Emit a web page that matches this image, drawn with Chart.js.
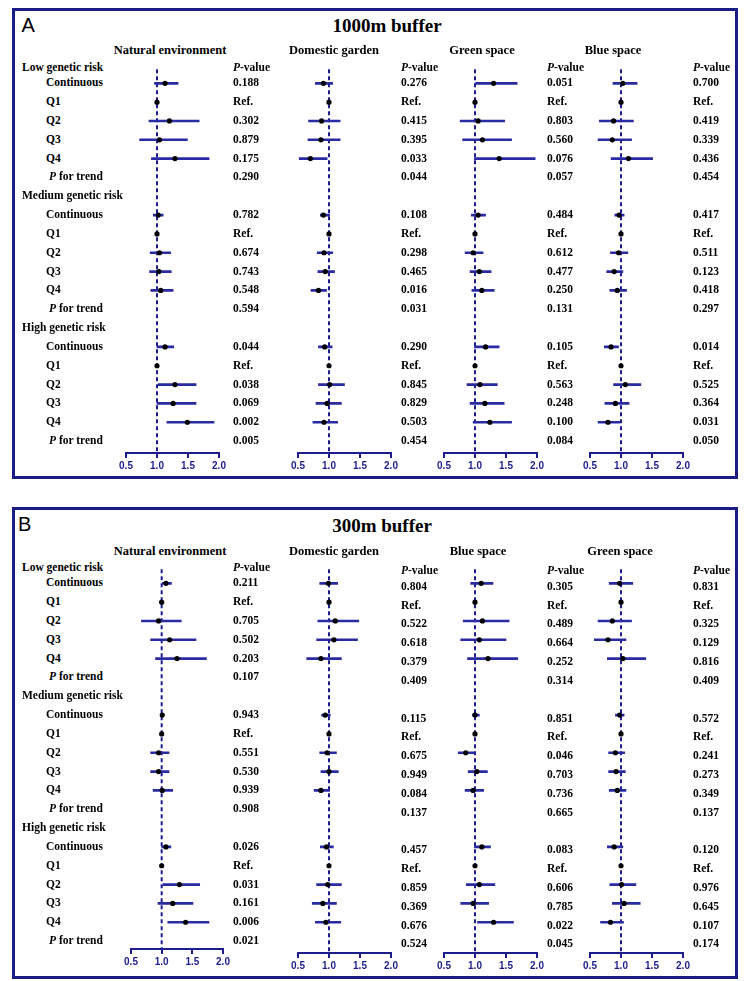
<!DOCTYPE html>
<html>
<head>
<meta charset="utf-8">
<title>Forest plots – 1000m and 300m buffer</title>
<script src="https://cdn.jsdelivr.net/npm/chart.js@4.4.1/dist/chart.umd.min.js"></script>
<style>
  html, body { margin: 0; padding: 0; background: #fff; }
  #page { position: relative; width: 750px; height: 981px; overflow: hidden;
          font-family: 'Liberation Serif', 'Times New Roman', serif; color: #000; }
  .panel { position: absolute; left: 12px; width: 726px; border: 3px solid #1b1b86; box-sizing: border-box; }
  .txt { position: absolute; white-space: nowrap; line-height: 1; transform: translateY(-50%);
         font-weight: bold; font-size: 11.5px; }
  .mid { transform: translate(-50%, -50%); }
  .letter { font-family: 'Liberation Sans', Arial, sans-serif; font-weight: normal; font-size: 20px; }
  .title { font-size: 19px; }
  .head { font-size: 12.5px; }
  canvas { position: absolute; }
</style>
</head>
<body>
<div id="page"></div>
<script>
/* ---------- rows and ticks ---------- */
const rowLabels = ['Low genetic risk', 'Continuous', 'Q1', 'Q2', 'Q3', 'Q4', 'P for trend',
  'Medium genetic risk', 'Continuous', 'Q1', 'Q2', 'Q3', 'Q4', 'P for trend',
  'High genetic risk', 'Continuous', 'Q1', 'Q2', 'Q3', 'Q4', 'P for trend'];
const orRows = [1, 2, 3, 4, 5, 8, 9, 10, 11, 12, 15, 16, 17, 18, 19];
const pRows = [1, 2, 3, 4, 5, 6, 8, 9, 10, 11, 12, 13, 15, 16, 17, 18, 19, 20];
const xTicks = [0.5, 1.0, 1.5, 2.0];
const refLine = 1.0;

const headsA = ['Natural environment', 'Domestic garden', 'Green space', 'Blue space'];
const headsB = ['Natural environment', 'Domestic garden', 'Blue space', 'Green space'];

/* ---------- A: 1000m buffer ---------- */
const natA_or = [1.13, 1, 1.20, 1.04, 1.29, 1.02, 1, 1.04, 1.03, 1.06, 1.13, 1, 1.29, 1.26, 1.49];
const natA_lo = [0.96, null, 0.87, 0.72, 0.91, 0.94, null, 0.89, 0.88, 0.90, 1.00, null, 1.02, 1.00, 1.16];
const natA_hi = [1.34, null, 1.68, 1.49, 1.84, 1.10, null, 1.22, 1.23, 1.26, 1.27, null, 1.63, 1.63, 1.92];
const natA_p = ['0.188', 'Ref.', '0.302', '0.879', '0.175', '0.290', '0.782', 'Ref.', '0.674', '0.743', '0.548', '0.594',
  '0.044', 'Ref.', '0.038', '0.069', '0.002', '0.005'];

const domA_or = [0.91, 1, 0.88, 0.87, 0.70, 0.91, 1, 0.92, 0.94, 0.83, 0.93, 1, 1.01, 0.97, 0.92];
const domA_lo = [0.78, null, 0.67, 0.66, 0.52, 0.86, null, 0.81, 0.82, 0.71, 0.83, null, 0.83, 0.79, 0.74];
const domA_hi = [1.06, null, 1.18, 1.18, 0.97, 1.01, null, 1.06, 1.09, 0.96, 1.05, null, 1.25, 1.20, 1.14];
const domA_p = ['0.276', 'Ref.', '0.415', '0.395', '0.033', '0.044', '0.108', 'Ref.', '0.298', '0.465', '0.016', '0.031',
  '0.290', 'Ref.', '0.845', '0.829', '0.503', '0.454'];

const greA_or = [1.30, 1, 1.05, 1.12, 1.39, 1.05, 1, 0.97, 1.07, 1.11, 1.17, 1, 1.08, 1.16, 1.24];
const greA_lo = [1.01, null, 0.76, 0.80, 0.99, 0.94, null, 0.84, 0.92, 0.95, 0.99, null, 0.87, 0.92, 0.97];
const greA_hi = [1.68, null, 1.48, 1.59, 1.97, 1.17, null, 1.13, 1.26, 1.31, 1.39, null, 1.36, 1.47, 1.59];
const greA_p = ['0.051', 'Ref.', '0.803', '0.560', '0.076', '0.057', '0.484', 'Ref.', '0.612', '0.477', '0.250', '0.131',
  '0.105', 'Ref.', '0.563', '0.248', '0.100', '0.084'];

const bluA_or = [1.03, 1, 0.88, 0.86, 1.12, 0.97, 1, 0.96, 0.89, 0.94, 0.84, 1, 1.07, 0.91, 0.79];
const bluA_lo = [0.87, null, 0.65, 0.63, 0.84, 0.90, null, 0.83, 0.77, 0.82, 0.73, null, 0.88, 0.74, 0.63];
const bluA_hi = [1.26, null, 1.20, 1.17, 1.51, 1.05, null, 1.11, 1.03, 1.09, 0.96, null, 1.32, 1.13, 0.98];
const bluA_p = ['0.700', 'Ref.', '0.419', '0.339', '0.436', '0.454', '0.417', 'Ref.', '0.511', '0.123', '0.418', '0.297',
  '0.014', 'Ref.', '0.525', '0.364', '0.031', '0.050'];

/* ---------- B: 300m buffer ---------- */
const natB_or = [1.07, 1, 0.95, 1.13, 1.25, 1.01, 1, 0.95, 0.95, 1.01, 1.07, 1, 1.29, 1.18, 1.39];
const natB_lo = [1.01, null, 0.67, 0.82, 0.90, 0.98, null, 0.82, 0.82, 0.86, 1.00, null, 1.02, 0.94, 1.10];
const natB_hi = [1.16, null, 1.32, 1.56, 1.73, 1.03, null, 1.12, 1.12, 1.18, 1.15, null, 1.62, 1.51, 1.77];
const natB_p = ['0.211', 'Ref.', '0.705', '0.502', '0.203', '0.107', '0.943', 'Ref.', '0.551', '0.530', '0.939', '0.908',
  '0.026', 'Ref.', '0.031', '0.161', '0.006', '0.021'];

const domB_or = [0.99, 1, 1.10, 1.08, 0.87, 0.94, 1, 0.97, 1.00, 0.87, 0.96, 1, 0.98, 0.90, 0.95];
const domB_lo = [0.85, null, 0.82, 0.80, 0.64, 0.88, null, 0.85, 0.87, 0.76, 0.86, null, 0.80, 0.73, 0.78];
const domB_hi = [1.14, null, 1.48, 1.46, 1.20, 1.02, null, 1.12, 1.15, 1.01, 1.07, null, 1.20, 1.12, 1.19];
const domB_p = ['0.804', 'Ref.', '0.522', '0.618', '0.379', '0.409', '0.115', 'Ref.', '0.675', '0.949', '0.084', '0.137',
  '0.457', 'Ref.', '0.859', '0.369', '0.676', '0.524'];

const bluB_or = [1.10, 1, 1.12, 1.07, 1.21, 1.00, 1, 0.85, 1.03, 0.97, 1.11, 1, 1.07, 0.97, 1.30];
const bluB_lo = [0.93, null, 0.81, 0.77, 0.88, 0.96, null, 0.73, 0.89, 0.84, 0.99, null, 0.86, 0.77, 1.04];
const bluB_hi = [1.29, null, 1.55, 1.50, 1.69, 1.07, null, 0.99, 1.20, 1.14, 1.25, null, 1.32, 1.22, 1.62];
const bluB_p = ['0.305', 'Ref.', '0.489', '0.664', '0.252', '0.314', '0.851', 'Ref.', '0.046', '0.703', '0.736', '0.665',
  '0.083', 'Ref.', '0.606', '0.785', '0.022', '0.045'];

const greB_or = [0.98, 1, 0.86, 0.79, 1.03, 0.98, 1, 0.91, 0.92, 0.94, 0.89, 1, 1.01, 1.05, 0.83];
const greB_lo = [0.81, null, 0.63, 0.57, 0.78, 0.91, null, 0.80, 0.80, 0.81, 0.78, null, 0.82, 0.86, 0.67];
const greB_hi = [1.19, null, 1.17, 1.08, 1.40, 1.05, null, 1.06, 1.07, 1.08, 1.03, null, 1.24, 1.31, 1.04];
const greB_p = ['0.831', 'Ref.', '0.325', '0.129', '0.816', '0.409', '0.572', 'Ref.', '0.241', '0.273', '0.349', '0.137',
  '0.120', 'Ref.', '0.976', '0.645', '0.107', '0.174'];

/* ---------- layout (pixels only) ---------- */
const NAVY = '#1c1c8e';
const BAR = '#2a2aa2';
const ROW_STEP = 18.83;

const panels = [
  { letter: 'A', letterX: 21.5, letterY: 25, title: '1000m buffer', titleX: 387, titleY: 25,
    top: 8, height: 471, headY: 50, row1: 83.3, heads: headsA,
    axis: [453, 453, 453, 453], pShift: [0, 0, 0, 0],
    plots: [
      { x0: 126, x1: 219, hx: 170, px: 233, or: natA_or, lo: natA_lo, hi: natA_hi, p: natA_p },
      { x0: 298, x1: 391, hx: 334, px: 401, or: domA_or, lo: domA_lo, hi: domA_hi, p: domA_p },
      { x0: 444, x1: 537, hx: 482, px: 547, or: greA_or, lo: greA_lo, hi: greA_hi, p: greA_p },
      { x0: 590, x1: 683, hx: 613, px: 693, or: bluA_or, lo: bluA_lo, hi: bluA_hi, p: bluA_p }
    ] },
  { letter: 'B', letterX: 18, letterY: 524, title: '300m buffer', titleX: 382, titleY: 525,
    top: 507, height: 472, headY: 551, row1: 583.3, heads: headsB,
    axis: [949, 953, 953, 953], pShift: [0, 3.4, 3.4, 3.4],
    plots: [
      { x0: 131, x1: 223, hx: 170, px: 233, or: natB_or, lo: natB_lo, hi: natB_hi, p: natB_p },
      { x0: 298, x1: 391, hx: 334, px: 401, or: domB_or, lo: domB_lo, hi: domB_hi, p: domB_p },
      { x0: 444, x1: 537, hx: 478, px: 547, or: bluB_or, lo: bluB_lo, hi: bluB_hi, p: bluB_p },
      { x0: 590, x1: 683, hx: 620, px: 693, or: greB_or, lo: greB_lo, hi: greB_hi, p: greB_p }
    ] }
];

const page = document.getElementById('page');

function addText(html, x, y, cls) {
  const d = document.createElement('div');
  d.className = 'txt' + (cls ? ' ' + cls : '');
  d.innerHTML = html;
  d.style.left = x + 'px';
  d.style.top = y + 'px';
  page.appendChild(d);
  return d;
}

// one forest plot = one Chart.js chart; returns a function row -> page y
function drawPlot(panel, k) {
  const plot = panel.plots[k];
  const padL = 22, padR = 22, axisH = 26;
  const axisY = panel.axis[k];
  const row0 = panel.row1 - ROW_STEP;
  const top = Math.floor(row0) - 6;
  const padT = row0 - top;
  const w = (plot.x1 - plot.x0) + padL + padR;
  const h = axisY - top + axisH;
  const yMax = (axisY - row0) / ROW_STEP;

  const canvas = document.createElement('canvas');
  canvas.width = w;
  canvas.height = h;
  canvas.style.left = (plot.x0 - padL) + 'px';
  canvas.style.top = top + 'px';
  canvas.style.width = w + 'px';
  canvas.style.height = h + 'px';
  page.appendChild(canvas);

  const points = [];
  const bars = [];
  plot.or.forEach((v, i) => {
    points.push({ x: v, y: orRows[i] });
    if (plot.lo[i] !== null) bars.push({ y: orRows[i], x: [plot.lo[i], plot.hi[i]] });
  });

  const chart = new Chart(canvas, {
    type: 'scatter',
    data: {
      datasets: [
        { type: 'scatter', data: points, pointRadius: 2.6, pointBackgroundColor: '#000',
          pointBorderWidth: 0, order: 0 },
        { type: 'bar', indexAxis: 'y', data: bars, backgroundColor: BAR, borderWidth: 0,
          barThickness: 2, order: 1 },
        { type: 'line', data: [{ x: refLine, y: 0.25 }, { x: refLine, y: yMax }], borderColor: NAVY,
          borderWidth: 2, borderDash: [4, 3], pointRadius: 0, order: 2 }
      ]
    },
    options: {
      responsive: false,
      animation: false,
      events: [],
      layout: { padding: { left: padL, right: padR, top: padT, bottom: 0 }, autoPadding: false },
      plugins: { legend: { display: false }, tooltip: { enabled: false } },
      scales: {
        x: {
          type: 'linear', position: 'bottom', offset: false,
          min: xTicks[0], max: xTicks[xTicks.length - 1],
          afterBuildTicks: scale => { scale.ticks = xTicks.map(v => ({ value: v })); },
          afterFit: scale => { scale.height = axisH; },
          ticks: {
            color: NAVY, padding: 2, maxRotation: 0, autoSkip: false,
            font: { family: "'Liberation Sans', Arial, sans-serif", size: 10, weight: 'bold' },
            callback: v => Number(v).toFixed(1)
          },
          grid: { display: true, offset: false, drawOnChartArea: false, drawTicks: true, tickLength: 5,
                  color: NAVY, lineWidth: 2 },
          border: { display: true, color: NAVY, width: 2 }
        },
        y: { type: 'linear', display: false, offset: false, grid: { offset: false },
             reverse: true, min: 0, max: yMax }
      }
    }
  });

  const ys = chart.scales.y;
  const rowY = r => top + ys.getPixelForValue(r) + (r === 0 ? 3.6 : 0);

  // column heading and P-values
  addText(panel.heads[k], plot.hx, panel.headY, 'head mid');
  addText('<i>P</i>-value', plot.px, rowY(0) + panel.pShift[k]);
  plot.p.forEach((s, i) => addText(s, plot.px, rowY(pRows[i]) + panel.pShift[k]));

  return rowY;
}

panels.forEach(panel => {
  const box = document.createElement('div');
  box.className = 'panel';
  box.style.top = panel.top + 'px';
  box.style.height = panel.height + 'px';
  page.appendChild(box);

  addText(panel.letter, panel.letterX, panel.letterY, 'letter');
  addText(panel.title, panel.titleX, panel.titleY, 'title mid');

  let rowY = null;
  panel.plots.forEach((plot, k) => {
    const f = drawPlot(panel, k);
    if (k === 0) rowY = f;
  });

  // row labels, aligned to the first plot's y scale
  rowLabels.forEach((label, r) => {
    const isHeader = label.indexOf('genetic risk') >= 0;
    if (isHeader) {
      addText(label, 22, rowY(r));
    } else if (label === 'P for trend') {
      addText('<i>P</i> for trend', 49, rowY(r));
    } else {
      addText(label, 46, rowY(r));
    }
  });
});
</script>
</body>
</html>
